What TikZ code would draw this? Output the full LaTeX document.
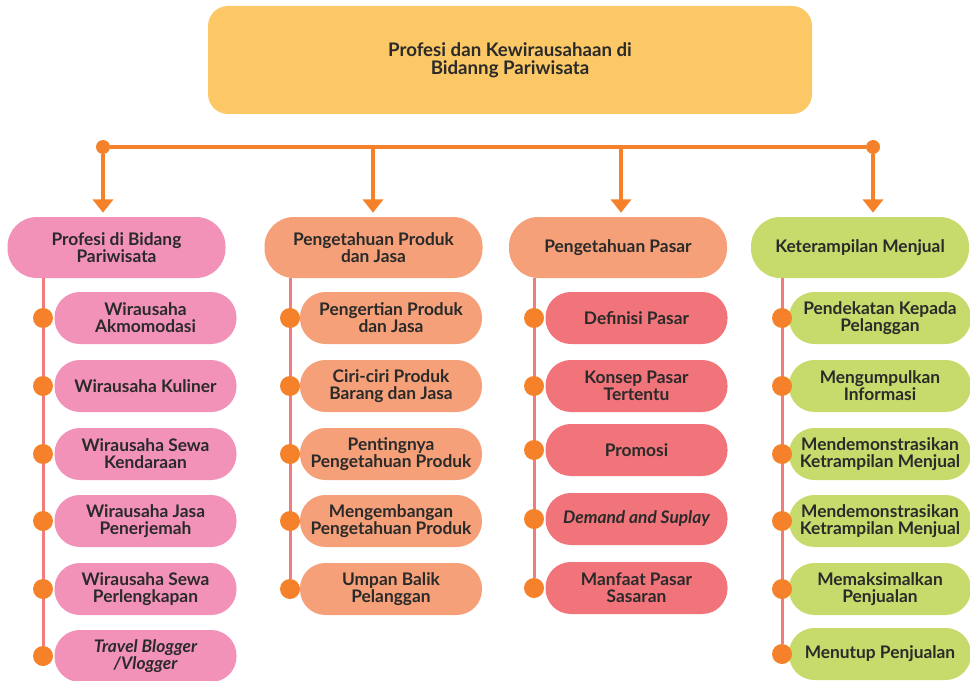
\documentclass[tikz,border=0pt]{standalone}
\usepackage{fontspec}
\setmainfont{Lato}
\usetikzlibrary{arrows.meta,backgrounds}

\definecolor{kuning}{HTML}{FCC866}
\definecolor{merahmuda}{HTML}{F292B9}
\definecolor{salem}{HTML}{F5A078}
\definecolor{merah}{HTML}{F07479}
\definecolor{hijau}{HTML}{C6DB6B}
\definecolor{jingga}{HTML}{F5822A}
\definecolor{garis}{HTML}{F07C7C}
\definecolor{teks}{HTML}{2A2A2A}

\tikzset{
  kepala/.style={rounded corners=22pt, minimum width=163.5pt, minimum height=45.75pt,
    inner sep=1pt, align=center, text=teks, font=\bfseries\fontsize{13}{12.75}\selectfont},
  anak/.style={rounded corners=19pt, minimum width=136.5pt, minimum height=39pt,
    inner sep=1pt, align=center, text=teks, font=\bfseries\fontsize{13}{12.75}\selectfont},
  titik/.style={circle, fill=jingga, inner sep=0pt, minimum size=15pt},
  ujung/.style={circle, fill=jingga, inner sep=0pt, minimum size=10.5pt},
  panah/.style={jingga, line width=3.5pt, -{Triangle[width=15pt,length=10pt]}, shorten >=3pt},
  tiang/.style={garis, line width=2.25pt}
}

\begin{document}
\begin{tikzpicture}[x=0.75pt, y=-0.75pt]
  \useasboundingbox (0,0) rectangle (970,681);

  % Judul
  \node[rounded corners=15pt, fill=kuning, minimum width=453pt, minimum height=81pt,
    align=center, text=teks, font=\bfseries\fontsize{14}{13.5}\selectfont]
    (judul) at (510,60) {Profesi dan Kewirausahaan di\\Bidanng Pariwisata};

  % Kepala kolom
  \node[kepala, fill=merahmuda] (k1) at (116.5,247.5) {Profesi di Bidang\\Pariwisata};
  \node[kepala, fill=salem] (k2) at (373.5,247.5) {Pengetahuan Produk\\dan Jasa};
  \node[kepala, fill=salem] (k3) at (618,247.5) {Pengetahuan Pasar};
  \node[kepala, fill=hijau] (k4) at (860,247.5) {Keterampilan Menjual};

  % Garis cabang
  \node[ujung] (c1) at (103,147) {};
  \coordinate (c2) at (373,147);
  \coordinate (c3) at (621,147);
  \node[ujung] (c4) at (873,147) {};
  \draw[jingga, line width=3pt] (c1) -- (c4);
  \foreach \i in {1,...,4}
    \draw[panah] (c\i) -- (c\i |- k\i.north);

  % Kolom 1
  \foreach \y/\teks [count=\j] in {318/{Wirausaha\\Akmomodasi}, 386/{Wirausaha Kuliner},
      454/{Wirausaha Sewa\\Kendaraan}, 521/{Wirausaha Jasa\\Penerjemah},
      589/{Wirausaha Sewa\\Perlengkapan}, 656/{\itshape Travel Blogger\\\itshape /Vlogger}} {
    \node[anak, fill=merahmuda] (a1\j) at (145.5,\y) {\teks};
    \node[titik] (t1\j) at (43,\y) {};
  }

  % Kolom 2
  \foreach \y/\teks [count=\j] in {318/{Pengertian Produk\\dan Jasa}, 386/{Ciri-ciri Produk\\Barang dan Jasa},
      454/{Pentingnya\\Pengetahuan Produk}, 521/{Mengembangan\\Pengetahuan Produk},
      589/{Umpan Balik\\Pelanggan}} {
    \node[anak, fill=salem] (a2\j) at (391,\y) {\teks};
    \node[titik] (t2\j) at (290,\y) {};
  }

  % Kolom 3
  \foreach \y/\teks [count=\j] in {318/{Definisi Pasar}, 386/{Konsep Pasar\\Tertentu},
      450/{Promosi}, 519/{\itshape Demand and Suplay}, 588/{Manfaat Pasar\\Sasaran}} {
    \node[anak, fill=merah] (a3\j) at (636.5,\y) {\teks};
    \node[titik] (t3\j) at (534,\y) {};
  }

  % Kolom 4
  \foreach \y/\teks [count=\j] in {318/{Pendekatan Kepada\\Pelanggan}, 386/{Mengumpulkan\\Informasi},
      454/{Mendemonstrasikan\\Ketrampilan Menjual}, 521/{Mendemonstrasikan\\Ketrampilan Menjual},
      589/{Memaksimalkan\\Penjualan}, 654/{Menutup Penjualan}} {
    \node[anak, fill=hijau] (a4\j) at (880,\y) {\teks};
    \node[titik] (t4\j) at (782,\y) {};
  }

  % Tiang
  \begin{pgfonlayer}{background}
    \draw[tiang] (k1.south -| t11) -- (t16);
    \draw[tiang] (k2.south -| t21) -- (t25);
    \draw[tiang] (k3.south -| t31) -- (t35);
    \draw[tiang] (k4.south -| t41) -- (t46);
  \end{pgfonlayer}
\end{tikzpicture}
\end{document}
